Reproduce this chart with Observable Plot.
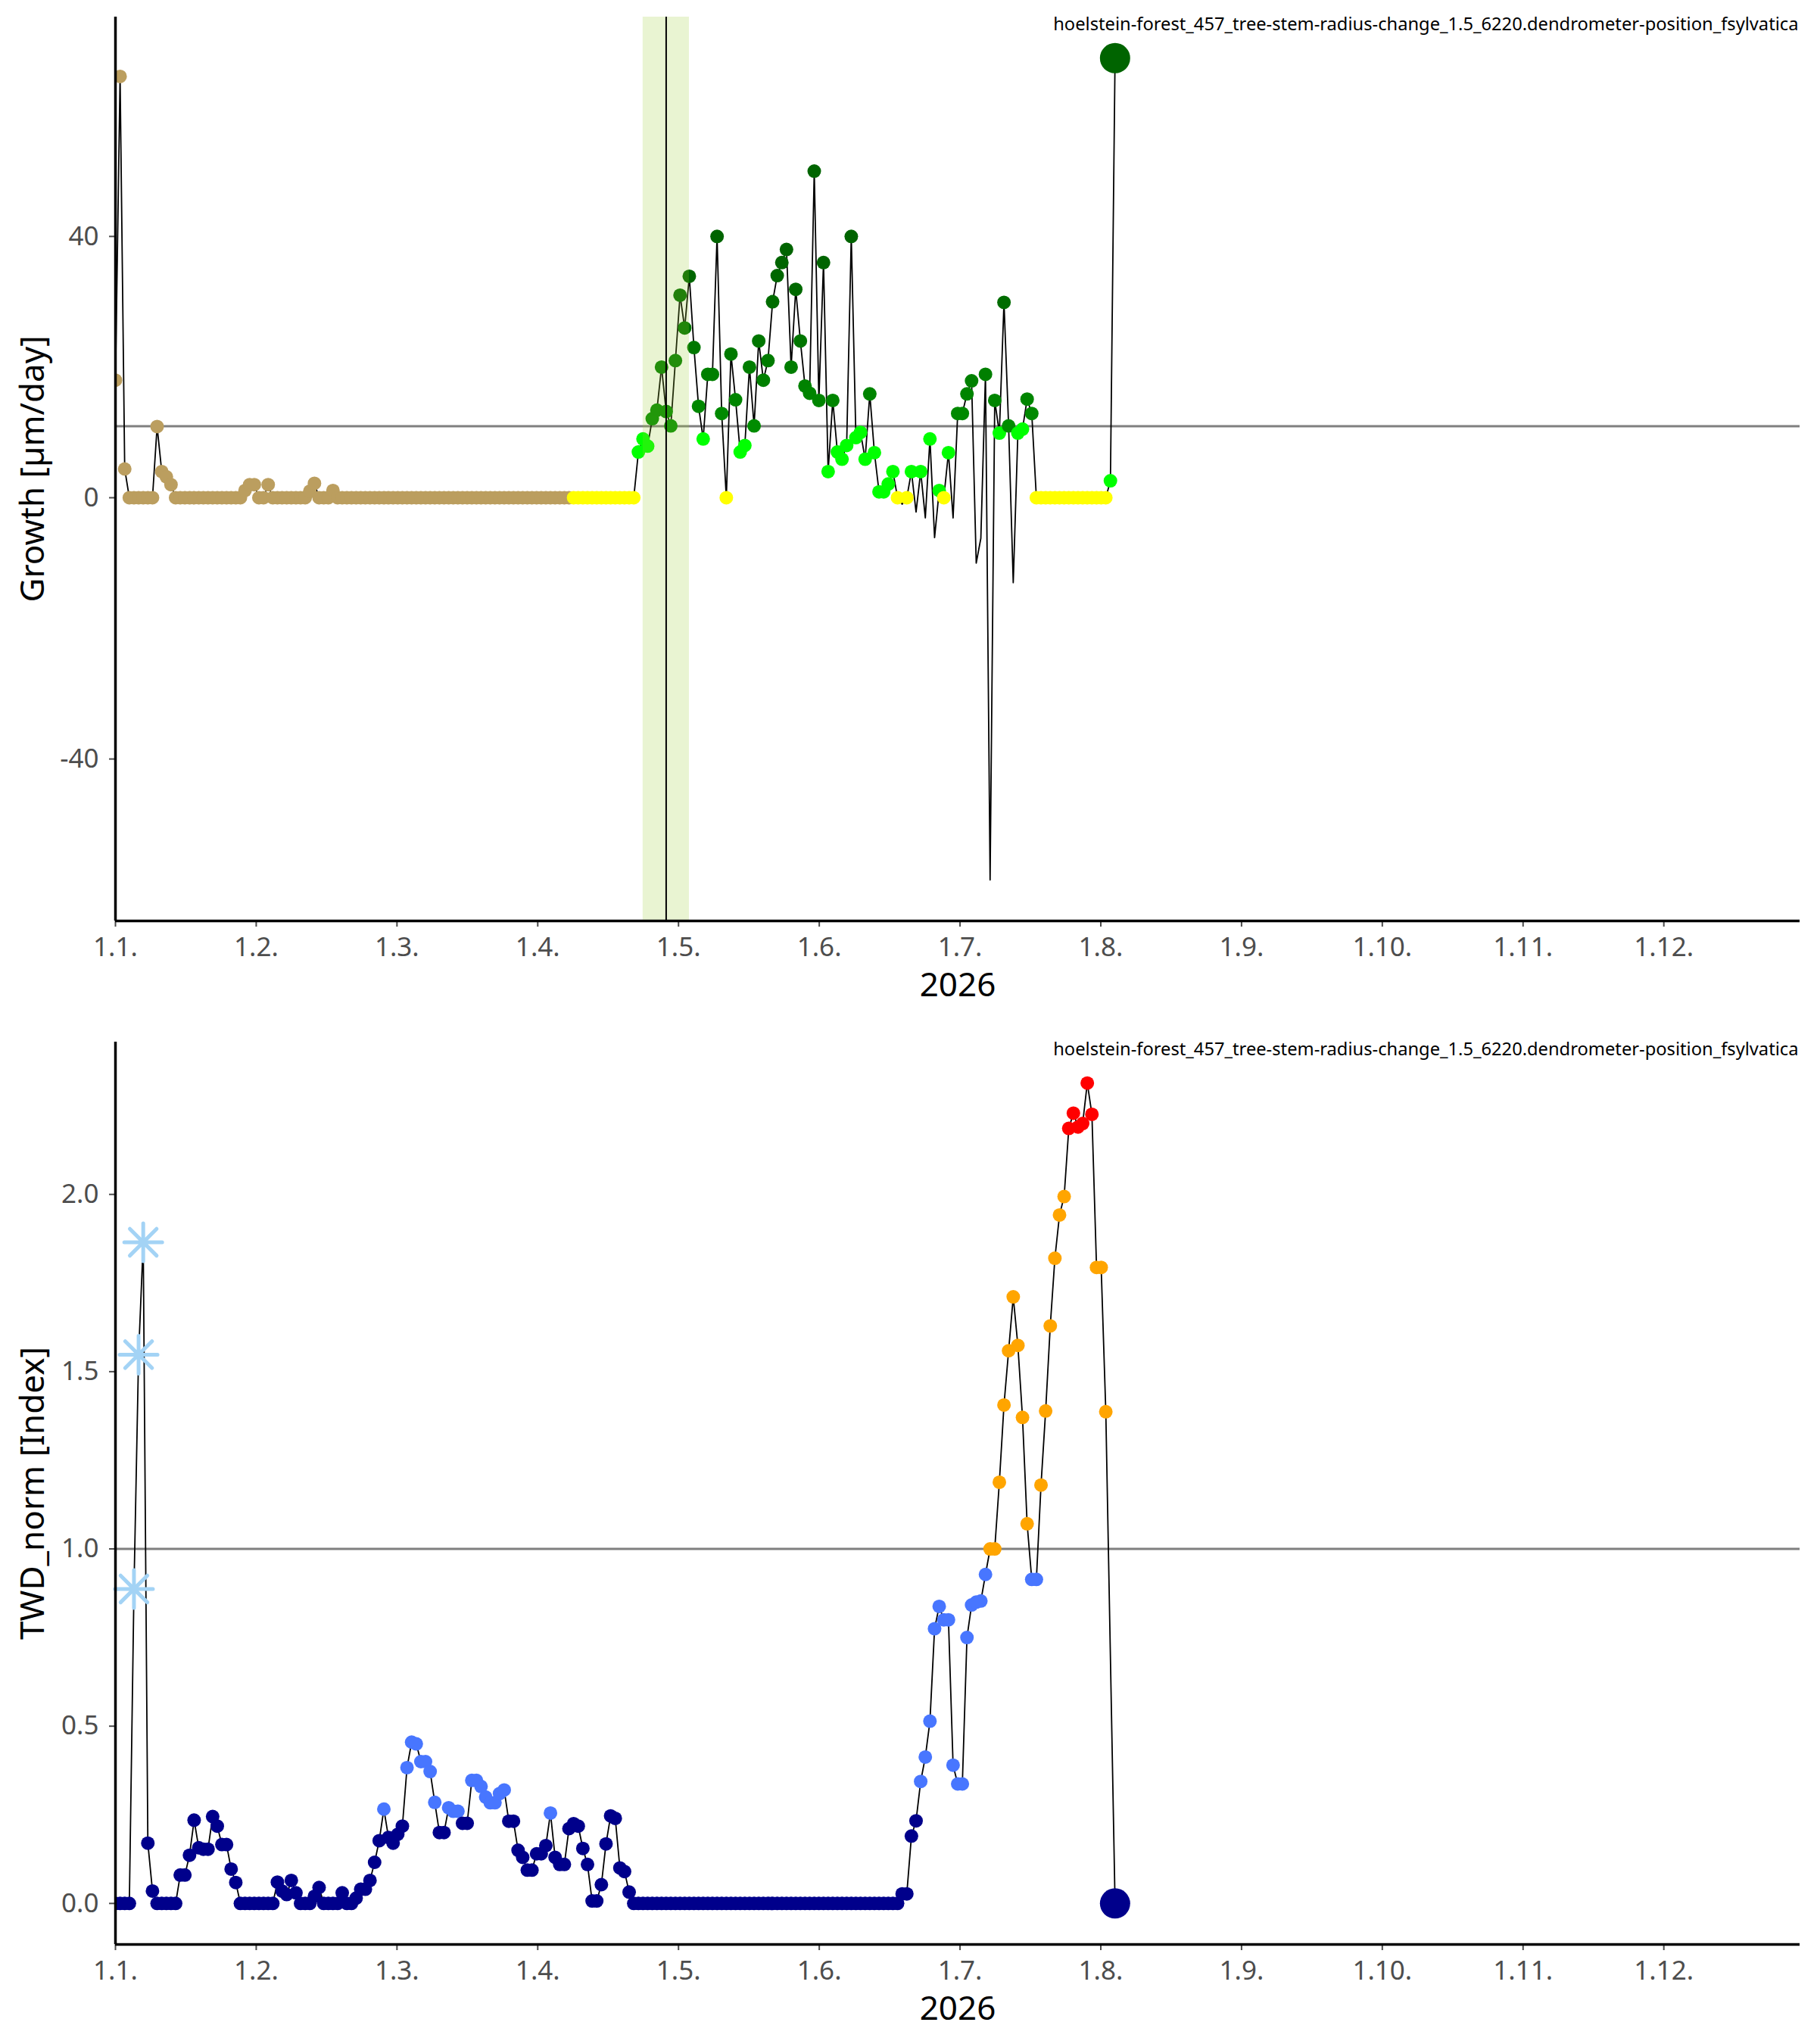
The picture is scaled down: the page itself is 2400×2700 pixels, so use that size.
<!DOCTYPE html>
<html>
<head>
<meta charset="utf-8">
<script src="https://cdn.jsdelivr.net/npm/d3@7"></script>
<script src="https://cdn.jsdelivr.net/npm/@observablehq/plot@0.6"></script>
<style>
  html, body { margin: 0; padding: 0; background: #ffffff; }
  #chart { width: 2400px; height: 2700px; font-family: "Noto Sans", sans-serif; }
  #chart svg { display: block; }
</style>
</head>
<body>
<div id="chart"></div>
<script>
// ---------------- data ----------------
const yearLabel = "2026";
const sensorName = "hoelstein-forest_457_tree-stem-radius-change_1.5_6220.dendrometer-position_fsylvatica";
const monthTickLabels = ["1.1.", "1.2.", "1.3.", "1.4.", "1.5.", "1.6.", "1.7.", "1.8.", "1.9.", "1.10.", "1.11.", "1.12."];
const growthAxisTicks = [-40, 0, 40];
const twdAxisTicks = [0, 0.5, 1, 1.5, 2];
const growthLabel = "Growth [µm/day]";
const twdLabel = "TWD_norm [Index]";

// day index 0 = 1 Jan
const dormancyEndDay = 98;
const growthThreshold = 10.95;
const eventDay = 119;
const eventWindow = [114, 124];
const twdReference = 1.0;
const twdFlaggedDays = [4, 5, 6];
const twdLevels = [0.25, 1.0, 2.0];

// daily growth [µm/day], day 0 .. 216 (last value = current reading)
const growth = [
  18.0, 64.5, 4.4, 0, 0, 0, 0, 0, 0, 10.9,
  4.0, 3.2, 2.0, 0, 0, 0, 0, 0, 0, 0,
  0, 0, 0, 0, 0, 0, 0, 0, 1.1, 2.0,
  2.0, 0, 0, 2.0, 0, 0, 0, 0, 0, 0,
  0, 0, 1.0, 2.2, 0, 0, 0, 1.1, 0, 0,
  0, 0, 0, 0, 0, 0, 0, 0, 0, 0,
  0, 0, 0, 0, 0, 0, 0, 0, 0, 0,
  0, 0, 0, 0, 0, 0, 0, 0, 0, 0,
  0, 0, 0, 0, 0, 0, 0, 0, 0, 0,
  0, 0, 0, 0, 0, 0, 0, 0, 0, 0,
  0, 0, 0, 0, 0, 0, 0, 0, 0, 0,
  0, 0, 0, 7.0, 9.0, 7.9, 12.1, 13.4, 20.0, 13.2,
  11.0, 21.0, 31.0, 26.0, 33.9, 23.0, 14.0, 9.0, 18.9, 18.9,
  40.0, 12.9, 0, 22.0, 15.0, 7.0, 8.0, 20.0, 11.0, 24.0,
  18.0, 21.0, 30.0, 34.0, 36.0, 38.0, 20.0, 31.9, 24.0, 17.1,
  16.0, 50.0, 14.9, 36.0, 4.0, 14.9, 7.0, 5.9, 8.0, 40.0,
  9.2, 10.0, 5.9, 15.9, 6.9, 0.9, 0.9, 2.1, 4.0, 0,
  -1.0, 0, 4.0, -2.2, 4.0, -3.1, 9.0, -6.1, 1.1, 0,
  6.9, -3.1, 12.9, 12.9, 15.9, 17.9, -10.0, -6.2, 18.9, -58.5,
  14.9, 9.9, 29.9, 11.0, -13.0, 9.9, 10.5, 15.1, 12.9, 0,
  0, 0, 0, 0, 0, 0, 0, 0, 0, 0,
  0, 0, 0, 0, 0, 2.6, 67.3
];

// daily normalised tree water deficit, day 0 .. 216 (null = missing)
const twdNorm = [
  0, 0, 0, 0, 0.887, 1.548, 1.865, 0.17, 0.035, 0,
  0, 0, 0, 0, 0.08, 0.08, 0.136, 0.235, 0.157, 0.153,
  0.153, 0.245, 0.218, 0.166, 0.166, 0.097, 0.059, 0, 0, 0,
  0, 0, 0, 0, 0, 0.06, 0.035, 0.025, 0.065, 0.03,
  0, 0, 0, 0.02, 0.045, 0, 0, 0, 0, 0.03,
  0, 0, 0.015, 0.04, 0.04, 0.065, 0.116, 0.177, 0.266, 0.186,
  0.17, 0.195, 0.218, 0.383, 0.455, 0.45, 0.40, 0.40, 0.372, 0.285,
  0.2, 0.2, 0.27, 0.26, 0.26, 0.226, 0.226, 0.347, 0.347, 0.33,
  0.30, 0.284, 0.284, 0.31, 0.32, 0.232, 0.232, 0.15, 0.13, 0.094,
  0.094, 0.14, 0.14, 0.163, 0.255, 0.13, 0.11, 0.11, 0.211, 0.225,
  0.218, 0.155, 0.11, 0.007, 0.007, 0.053, 0.168, 0.247, 0.24, 0.1,
  0.09, 0.032, 0, 0, 0, 0, 0, 0, 0, 0,
  0, 0, 0, 0, 0, 0, 0, 0, 0, 0,
  0, 0, 0, 0, 0, 0, 0, 0, 0, 0,
  0, 0, 0, 0, 0, 0, 0, 0, 0, 0,
  0, 0, 0, 0, 0, 0, 0, 0, 0, 0,
  0, 0, 0, 0, 0, 0, 0, 0, 0, 0,
  0.027, 0.027, 0.19, 0.233, 0.344, 0.413, 0.514, 0.775, 0.838, 0.80,
  0.80, 0.39, 0.337, 0.337, 0.75, 0.842, 0.85, 0.853, 0.928, 1.0,
  1.0, 1.188, 1.406, 1.559, 1.711, 1.574, 1.371, 1.071, 0.914, 0.914,
  1.18, 1.389, 1.629, 1.82, 1.942, 1.994, 2.186, 2.229, 2.19, 2.2,
  2.314, 2.226, 1.794, 1.794, 1.387, null, 0
];

// ---------------- helpers ----------------
const FONT = "Noto Sans";
const monthStep = 365 / 12;
const monthTicks = monthTickLabels.map((_, i) => i * monthStep);
const monthFormat = d => monthTickLabels[Math.round(d / monthStep)];
const xDomain = [0, 364];

function expand(ext) {
  const pad = (ext[1] - ext[0]) * 0.05;
  return [ext[0] - pad, ext[1] + pad];
}

const greenRamp = d3.scaleLinear().domain([growthThreshold, 35]).range(["#008c00", "#006400"]).clamp(true);
function growthFill(d) {
  if (d.day <= dormancyEndDay) return "#bb9e5f";
  if (d.value === 0) return "#ffff00";
  if (d.value < growthThreshold) return "#00ff00";
  return greenRamp(d.value);
}
function twdFill(d) {
  if (d.value < twdLevels[0]) return "#00008b";
  if (d.value < twdLevels[1]) return "#4876ff";
  if (d.value < twdLevels[2]) return "#ffa500";
  return "#ff0000";
}

const asteriskSymbol = {
  draw(ctx, size) {
    const r = Math.sqrt(size / Math.PI);
    for (const a of [0, 45, 90, 135]) {
      const t = a * Math.PI / 180;
      const dx = r * Math.cos(t), dy = r * Math.sin(t);
      ctx.moveTo(-dx, -dy);
      ctx.lineTo(dx, dy);
    }
  }
};

function commonMarks(yDomain, yTicks, yFormat, yLabel) {
  return [
    Plot.axisX({ticks: monthTicks, tickFormat: monthFormat, tickSize: 8, tickPadding: 14,
      fontSize: 35, color: "#4d4d4d", strokeWidth: 2, label: null}),
    Plot.axisY({ticks: yTicks, tickFormat: yFormat, tickSize: 8, tickPadding: 14,
      fontSize: 35, color: "#4d4d4d", strokeWidth: 2, label: null}),
    Plot.ruleX([xDomain[0]], {stroke: "black", strokeWidth: 3.5}),
    Plot.ruleY([yDomain[0]], {stroke: "black", strokeWidth: 3.5}),
    Plot.text([sensorName], {frameAnchor: "top-right", dx: -2, dy: 10, lineAnchor: "middle",
      textAnchor: "end", fontSize: 23.7, fill: "black"}),
    Plot.text([yLabel], {frameAnchor: "left", rotate: -90, dx: -109, lineAnchor: "middle",
      textAnchor: "middle", fontSize: 44, fill: "black"}),
    Plot.text([yearLabel], {frameAnchor: "bottom", dy: 85, lineAnchor: "middle",
      textAnchor: "middle", fontSize: 44, fill: "black"})
  ];
}

// ---------------- top: growth ----------------
const growthRows = growth.map((v, i) => ({day: i, value: v}));
const growthDots = growthRows.slice(0, -1).filter(d => d.value >= 0);
const growthLast = growthRows.slice(-1);
const gDomain = expand(d3.extent(growth));
const bandEdges = eventWindow.map(d => ({day: d}));

const topPlot = Plot.plot({
  width: 2400, height: 1350,
  marginLeft: 152, marginRight: 23, marginTop: 22, marginBottom: 134,
  style: {fontFamily: FONT, background: "white", overflow: "visible"},
  x: {domain: xDomain},
  y: {domain: gDomain},
  color: {type: "identity"},
  marks: [
    Plot.ruleY([growthThreshold], {stroke: "#7f7f7f", strokeWidth: 3}),
    Plot.line(growthRows, {x: "day", y: "value", stroke: "black", strokeWidth: 1.8, clip: true}),
    Plot.dot(growthDots, {x: "day", y: "value", r: 9, fill: growthFill, stroke: null, clip: true}),
    Plot.dot(growthLast, {x: "day", y: "value", r: 20, fill: growthFill, stroke: null}),
    Plot.areaY(bandEdges, {x: "day", y1: () => gDomain[0], y2: () => gDomain[1],
      fill: "#9acd32", fillOpacity: 0.22, stroke: null}),
    Plot.ruleX([eventDay], {stroke: "black", strokeWidth: 2}),
    ...commonMarks(gDomain, growthAxisTicks, d => String(d), growthLabel)
  ]
});

// ---------------- bottom: TWD_norm ----------------
const twdRows = twdNorm.map((v, i) => ({day: i, value: v})).filter(d => d.value !== null);
const twdFlagged = twdRows.filter(d => twdFlaggedDays.includes(d.day));
const twdDots = twdRows.slice(0, -1).filter(d => !twdFlaggedDays.includes(d.day));
const twdLast = twdRows.slice(-1);
const tDomain = expand(d3.extent(twdRows, d => d.value));

const bottomPlot = Plot.plot({
  width: 2400, height: 1350,
  marginLeft: 152, marginRight: 23, marginTop: 26, marginBottom: 132,
  style: {fontFamily: FONT, background: "white", overflow: "visible"},
  x: {domain: xDomain},
  y: {domain: tDomain},
  color: {type: "identity"},
  marks: [
    Plot.ruleY([twdReference], {stroke: "#7f7f7f", strokeWidth: 3}),
    Plot.line(twdRows, {x: "day", y: "value", stroke: "black", strokeWidth: 1.8, clip: true}),
    Plot.dot(twdDots, {x: "day", y: "value", r: 9, fill: twdFill, stroke: null, clip: true}),
    Plot.dot(twdFlagged, {x: "day", y: "value", r: 25, symbol: asteriskSymbol, fill: "none",
      stroke: "#a3d3f5", strokeWidth: 5, strokeLinecap: "round"}),
    Plot.dot(twdLast, {x: "day", y: "value", r: 20, fill: twdFill, stroke: null}),
    ...commonMarks(tDomain, twdAxisTicks, d3.format(".1f"), twdLabel)
  ]
});

const chart = document.getElementById("chart");
chart.appendChild(topPlot);
chart.appendChild(bottomPlot);
</script>
</body>
</html>
